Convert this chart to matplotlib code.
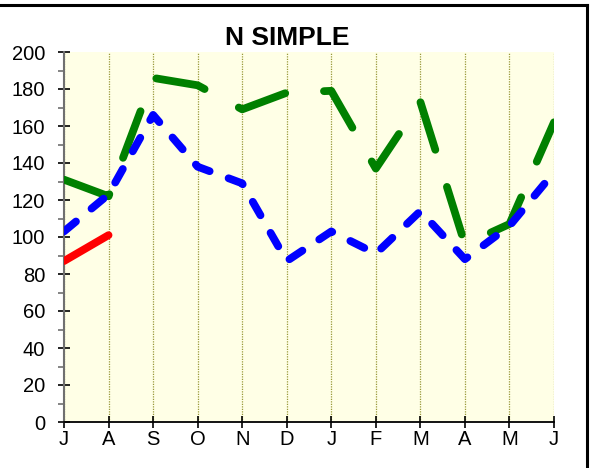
import matplotlib
matplotlib.use('Agg')
import matplotlib.pyplot as plt
from matplotlib.lines import Line2D
from matplotlib.ticker import MultipleLocator
from matplotlib import font_manager

# month labels (July .. June) and the three series
months = ['J', 'A', 'S', 'O', 'N', 'D', 'J', 'F', 'M', 'A', 'M', 'J']
blue_vals = [103, 123, 166, 138, 129, 87, 103, 91, 114, 88, 106, 135]
green_vals = [131, 122, 186, 182, 169, 178, 179, 137, 173, 96, 107, 162]
red_vals = [87, 101]

names = {f.name for f in font_manager.fontManager.ttflist}
fam = 'Liberation Sans Narrow' if 'Liberation Sans Narrow' in names else 'Liberation Sans'
plt.rcParams['font.family'] = [fam, 'DejaVu Sans']

fig = plt.figure(figsize=(5.9, 4.68), dpi=100)
ax = fig.add_axes([64 / 590, 46 / 468, 490 / 590, 370 / 468])
ax.set_facecolor('#ffffe6')

x = list(range(len(months)))
lw = 5.6
ax.plot(x, green_vals, color='#008000', lw=lw, dashes=(6.4, 5.0),
        dash_capstyle='round', solid_capstyle='round', zorder=3)
ax.plot(x, blue_vals, color='#0000ff', lw=lw, dashes=(2.0, 2.6),
        dash_capstyle='round', solid_capstyle='round', zorder=4)
ax.plot(x[:len(red_vals)], red_vals, color='#ff0000', lw=lw,
        solid_capstyle='round', zorder=5)

ax.set_xlim(0, len(months) - 1)
ax.set_ylim(0, 200)
ax.set_xticks(x)
ax.set_xticklabels(months)
ax.yaxis.set_major_locator(MultipleLocator(20))
ax.yaxis.set_minor_locator(MultipleLocator(10))

ax.grid(axis='x', color='#99993a', linestyle=(0, (1, 1)), linewidth=0.9)
ax.set_axisbelow(True)

for s in ('top', 'right'):
    ax.spines[s].set_visible(False)
ax.spines['left'].set_color('#707070')
ax.spines['left'].set_linewidth(1.5)
ax.spines['bottom'].set_color('black')
ax.spines['bottom'].set_linewidth(1.3)

ax.tick_params(axis='y', which='major', direction='inout', length=9, width=1.2,
               color='black', labelsize=14.5, pad=9)
ax.tick_params(axis='y', which='minor', direction='out', length=4, width=1.2,
               color='#707070')
ax.tick_params(axis='x', which='major', direction='inout', length=8, width=1.2,
               color='black', labelsize=14.5, pad=2)

fig.text(287 / 590, 1 - 45 / 468, 'N SIMPLE', ha='center', va='baseline',
         fontsize=19, fontweight='bold')

# frame lines at the top and right of the picture
fig.add_artist(Line2D([0, 587 / 590], [1 - 5 / 468, 1 - 5 / 468],
                      transform=fig.transFigure, color='black', lw=2.2))
fig.add_artist(Line2D([587 / 590, 587 / 590], [0, 1 - 5 / 468],
                      transform=fig.transFigure, color='black', lw=2.2))

fig.savefig('out.png', dpi=100)
